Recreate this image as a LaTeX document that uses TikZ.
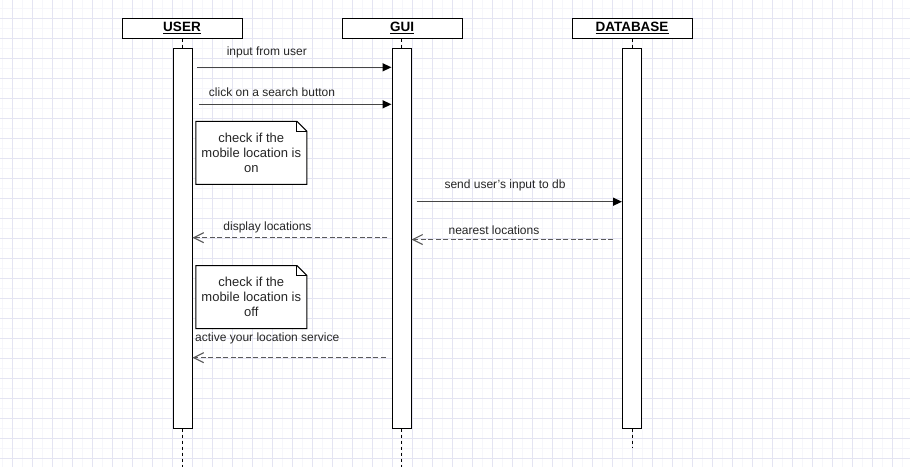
\documentclass[tikz,border=0pt]{standalone}
\usepackage{fontspec}
\setmainfont{Liberation Sans}
\usetikzlibrary{arrows.meta,calc}
\definecolor{gridmajor}{RGB}{228,228,242}
\definecolor{gridminor}{RGB}{246,246,251}
\definecolor{msgcol}{RGB}{70,70,70}
\definecolor{retcol}{RGB}{90,90,90}
\begin{document}
\begin{tikzpicture}[x=1pt,y=-1pt,
  head/.style={draw=black,line width=1pt,fill=white,minimum width=120pt,minimum height=20pt,inner sep=0pt,
    font=\fontsize{13.5}{16}\selectfont\bfseries},
  actbar/.style={draw=black,line width=1pt,fill=white,minimum width=19pt,minimum height=380pt,inner sep=0pt},
  lifeline/.style={draw=black,line width=0.8pt,dash pattern=on 3pt off 3pt},
  msg/.style={draw=msgcol,line width=1.4pt,-{Triangle[length=9pt,width=8pt,fill=black,color=black]}},
  ret/.style={draw=retcol,line width=1.4pt,dash pattern=on 5pt off 2.5pt,-{Straight Barb[length=10pt,width=10pt,line width=1.1pt]}},
  lbl/.style={font=\fontsize{12}{14}\selectfont,text=black!85,inner sep=0pt},
  notetext/.style={font=\fontsize{13}{15}\selectfont,align=center,inner sep=0pt,minimum width=110.7pt,minimum height=62.6pt,text=black!85},
  noteline/.style={draw=black,line width=1pt,fill=white}
]
\useasboundingbox (0,0) rectangle (910,467);
\fill[white] (0,0) rectangle (910,467);
% grid
\foreach \x in {2.7,22.7,...,910} \draw[gridminor,line width=0.6pt] (\x,0) -- (\x,467);
\foreach \y in {8,28,...,467} \draw[gridminor,line width=0.6pt] (0,\y) -- (910,\y);
\foreach \x in {12.7,32.7,...,910} \draw[gridmajor,line width=0.7pt] (\x,0) -- (\x,467);
\foreach \y in {18,38,...,467} \draw[gridmajor,line width=0.7pt] (0,\y) -- (910,\y);

% headers
\node[head] (user) at (182,28) {\underline{USER}};
\node[head] (gui) at (402,28) {\underline{GUI}};
\node[head] (db) at (632,28) {\underline{DATABASE}};

% end points of lifelines
\coordinate (userend) at (182.5,467);
\coordinate (guiend) at (401.5,467);
\coordinate (dbend) at (632,448);

% activation bars
\node[actbar] (userbar) at (182.5,238) {};
\node[actbar] (guibar) at (401.5,238) {};
\node[actbar] (dbbar) at (632,238) {};

\draw[lifeline] (user.south -| userbar.north) -- (userbar.north);
\draw[lifeline] (gui.south -| guibar.north) -- (guibar.north);
\draw[lifeline] (db.south -| dbbar.north) -- (dbbar.north);
\draw[lifeline] (userbar.south) -- (userend);
\draw[lifeline] (guibar.south) -- (guiend);
\draw[lifeline] (dbbar.south) -- (dbend);

% messages
\coordinate (m1s) at (197,67.3);
\draw[msg] (m1s) -- (m1s -| guibar.west);
\node[lbl,anchor=base] (l1) at (266.8,55) {input from user};

\coordinate (m2s) at (199,104.3);
\draw[msg] (m2s) -- (m2s -| guibar.west);
\node[lbl,anchor=base] (l2) at (272,96.7) {click on a search button};

% note 1
\node[notetext] (n1) at (251.3,152.8) {};
\draw[noteline] (n1.north west) -- ($(n1.north east)+(-10,0)$) -- ($(n1.north east)+(0,10)$) -- (n1.south east) -- (n1.south west) -- cycle;
\draw[line width=0.8pt] ($(n1.north east)+(-10,0)$) -- ($(n1.north east)+(-10,10)$) -- ($(n1.north east)+(0,10)$);
\node[notetext] (t1) at (n1) {check if the\\mobile location is\\on};

\coordinate (m4s) at (416.7,201.7);
\draw[msg] (m4s) -- (m4s -| dbbar.west);
\node[lbl,anchor=base] (l4) at (505,188.3) {send user's input to db};

\coordinate (m3s) at (387,237.7);
\draw[ret] (m3s) -- (m3s -| userbar.east);
\node[lbl,anchor=base] (l3) at (267.5,230) {display locations};

\coordinate (m5s) at (613.3,239.5);
\draw[ret] (m5s) -- (m5s -| guibar.east);
\node[lbl,anchor=base] (l5) at (494,234) {nearest locations};

% note 2
\node[notetext] (n2) at (251.3,297) {};
\draw[noteline] (n2.north west) -- ($(n2.north east)+(-10,0)$) -- ($(n2.north east)+(0,10)$) -- (n2.south east) -- (n2.south west) -- cycle;
\draw[line width=0.8pt] ($(n2.north east)+(-10,0)$) -- ($(n2.north east)+(-10,10)$) -- ($(n2.north east)+(0,10)$);
\node[notetext] (t2) at (n2) {check if the\\mobile location is\\off};

\coordinate (m6s) at (385.7,357.7);
\draw[ret] (m6s) -- (m6s -| userbar.east);
\node[lbl,anchor=base west] (l6) at (195,341.7) {active your location service};
\end{tikzpicture}
\end{document}
